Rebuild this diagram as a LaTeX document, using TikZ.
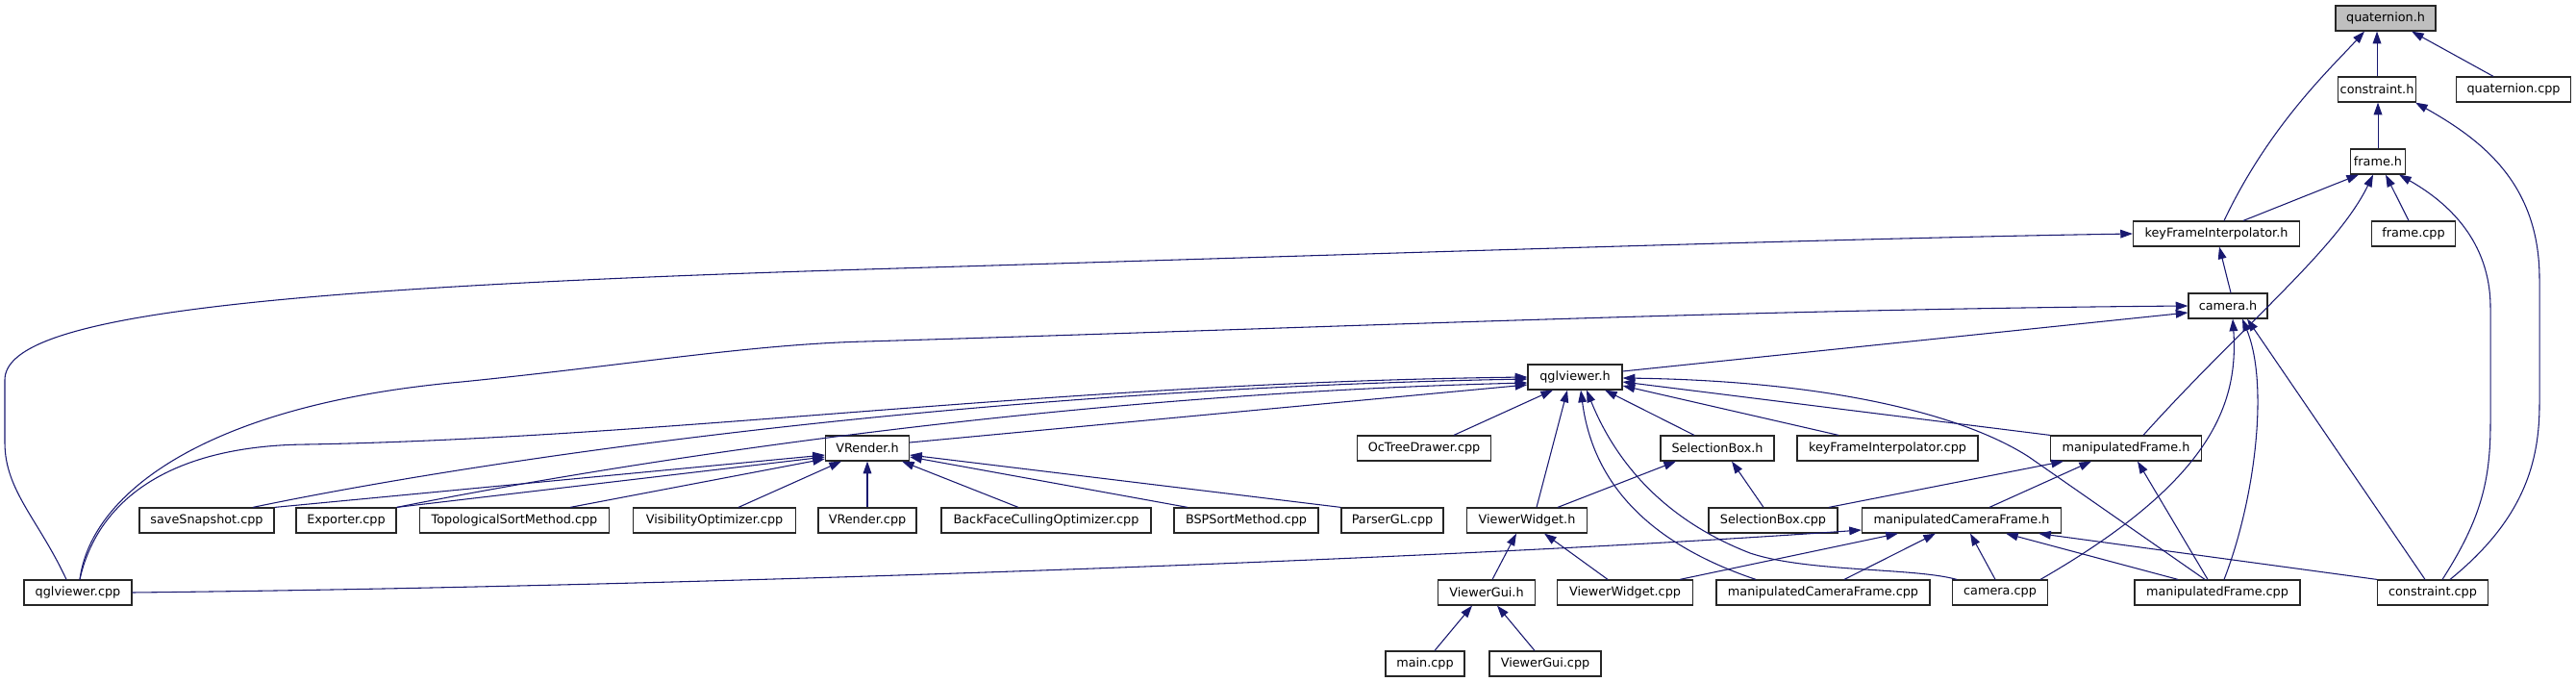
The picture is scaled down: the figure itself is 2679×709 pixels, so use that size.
\documentclass[tikz,border=0pt]{standalone}
\usepackage{fontspec}
\setmainfont{DejaVu Sans}
\usetikzlibrary{arrows.meta,calc}
\definecolor{edgeblue}{RGB}{25,25,112}
\tikzset{
  file/.style={draw=black!85, fill=white, line width=0.9pt, minimum height=19.5pt,
    inner sep=0pt, font=\fontsize{9.6}{11}\selectfont},
  wd/.style={minimum width=#1*0.75pt},
  inc/.style={draw=edgeblue, line width=0.8pt, -{Triangle[length=9.5pt,width=6.5pt]}},
}
\begin{document}
\begin{tikzpicture}[x=0.75pt,y=-0.75pt]
\useasboundingbox (0,0) rectangle (2679,709);

% Ficheiros de cima
\node[file, wd=104, fill=black!25] (quath) at (2481,19) {quaternion.h};
\node[file, wd=81]  (constrh)   at (2472,93)  {constraint.h};
\node[file, wd=119] (quatcpp)   at (2614,93)  {quaternion.cpp};
\node[file, wd=57]  (frameh)    at (2473,168) {frame.h};
\node[file, wd=173] (kfih)      at (2305,243) {keyFrameInterpolator.h};
\node[file, wd=87]  (framecpp)  at (2510,243) {frame.cpp};
\node[file, wd=82]  (camh)      at (2317,318) {camera.h};
\node[file, wd=98]  (qglh)      at (1638,392) {qglviewer.h};

% Linha do meio
\node[file, wd=87]  (vrenderh)  at (902,466)  {VRender.h};
\node[file, wd=139] (octree)    at (1481,466) {OcTreeDrawer.cpp};
\node[file, wd=118] (selboxh)   at (1786,466) {SelectionBox.h};
\node[file, wd=188] (kficpp)    at (1963,466) {keyFrameInterpolator.cpp};
\node[file, wd=157] (mframeh)   at (2211,466) {manipulatedFrame.h};

% Linha de baixo
\node[file, wd=140] (snapshot)  at (215,541)  {saveSnapshot.cpp};
\node[file, wd=104] (exporter)  at (360,541)  {Exporter.cpp};
\node[file, wd=197] (topo)      at (535,541)  {TopologicalSortMethod.cpp};
\node[file, wd=169] (visib)     at (743,541)  {VisibilityOptimizer.cpp};
\node[file, wd=102] (vrendercpp) at (902,541) {VRender.cpp};
\node[file, wd=218] (backface)  at (1088,541) {BackFaceCullingOptimizer.cpp};
\node[file, wd=150] (bspsort)   at (1296,541) {BSPSortMethod.cpp};
\node[file, wd=106] (parsergl)  at (1448,541) {ParserGL.cpp};
\node[file, wd=125] (vwidgeth)  at (1588,541) {ViewerWidget.h};
\node[file, wd=134] (selboxcpp) at (1844,541) {SelectionBox.cpp};
\node[file, wd=207] (mcamframeh) at (2040,541) {manipulatedCameraFrame.h};

\node[file, wd=112] (qglcpp)    at (81,616)   {qglviewer.cpp};
\node[file, wd=101] (vguih)     at (1546,616) {ViewerGui.h};
\node[file, wd=141] (vwidgetcpp) at (1690,616) {ViewerWidget.cpp};
\node[file, wd=222] (mcamframecpp) at (1896,616) {manipulatedCameraFrame.cpp};
\node[file, wd=99]  (cameracpp) at (2080,616) {camera.cpp};
\node[file, wd=172] (mframecpp) at (2306,616) {manipulatedFrame.cpp};
\node[file, wd=115] (constrcpp) at (2530,616) {constraint.cpp};

\node[file, wd=82]  (maincpp)   at (1482,690) {main.cpp};
\node[file, wd=116] (vguicpp)   at (1607,690) {ViewerGui.cpp};

% quaternion, constraint, frame
\draw[inc] (constrh.north) -- (constrh.north |- quath.south);
\draw[inc] ($(quatcpp.north)+(-21,0)$) -- ($(quath.south)+(27,0)$);
\draw[inc] ($(kfih.north)+(8,0)$) .. controls (2360,130) and (2425,70) .. ($(quath.south)+(-22,0)$);
\draw[inc] (frameh.north) -- (frameh.north |- constrh.south);
\draw[inc] ($(constrcpp.north)+(18,0)$) .. controls (2625,540) and (2641,480) .. (2641,420)
  -- (2641,290) .. controls (2641,190) and (2580,145) .. ($(constrh.south)+(40,0)$);
\draw[inc] ($(kfih.north)+(28,0)$) -- ($(frameh.south)+(-20,0)$);
\draw[inc] ($(framecpp.north)+(-5,0)$) -- ($(frameh.south)+(8,0)$);
\draw[inc] ($(constrcpp.north)+(10,0)$) .. controls (2580,540) and (2590,500) .. (2590,440)
  -- (2590,320) .. controls (2590,250) and (2545,210) .. ($(frameh.south)+(22,0)$);
\draw[inc] ($(mframeh.north)+(18,0)$) .. controls (2330,340) and (2430,260) .. ($(frameh.south)+(-5,0)$);

% camera e keyFrameInterpolator
\draw[inc] ($(camh.north)+(3,0)$) -- ($(kfih.south)+(3,0)$);
\draw[inc] ($(qglcpp.north)+(-12,0)$) .. controls (40,540) and (5,510) .. (5,460) -- (5,395)
  .. controls (5,330) and (250,300) .. (900,280) .. controls (1400,265) and (1900,248) .. (kfih.west);
\draw[inc] ($(qglcpp.north)+(2,0)$) .. controls (95,510) and (220,420) .. (480,397)
  .. controls (650,380) and (780,358) .. (900,355) .. controls (1400,340) and (1800,322) .. (camh.west);
\draw[inc] ($(qglh.east)+(0,-6)$) -- ($(camh.west)+(0,7)$);
\draw[inc] ($(cameracpp.north)+(42,0)$) .. controls (2300,500) and (2328,420) .. ($(camh.south)+(5,0)$);
\draw[inc] ($(mframecpp.north)+(7,0)$) .. controls (2345,520) and (2360,400) .. ($(camh.south)+(15,0)$);
\draw[inc] ($(constrcpp.north)+(-8,0)$) -- ($(camh.south)+(20,0)$);

% qglviewer.h
\draw[inc] ($(qglcpp.north)+(2,0)$) .. controls (100,525) and (170,463) .. (320,462)
  .. controls (700,455) and (1100,398) .. (qglh.west);
\draw[inc] ($(snapshot.north)+(48,0)$) .. controls (500,478) and (1000,405) .. ($(qglh.west)+(0,2)$);
\draw[inc] (exporter.north east) .. controls (650,480) and (1100,410) .. ($(qglh.west)+(0,6)$);
\draw[inc] ($(vrenderh.east)+(0,-6)$) -- ($(qglh.west)+(0,8)$);
\draw[inc] ($(octree.north)+(31,0)$) -- ($(qglh.south)+(-23,0)$);
\draw[inc] ($(vwidgeth.north)+(10,0)$) -- ($(qglh.south)+(-8,0)$);
\draw[inc] ($(selboxh.north)+(-24,0)$) -- ($(qglh.south)+(31,0)$);
\draw[inc] ($(kficpp.north)+(-51,0)$) -- ($(qglh.east)+(0,9)$);
\draw[inc] (mframeh.north west) -- ($(qglh.east)+(0,5)$);
\draw[inc] ($(mframecpp.north)+(-13,0)$) -- (2110,475) .. controls (2040,430) and (1900,396) .. ($(qglh.east)+(0,1)$);
\draw[inc] ($(mcamframecpp.north)+(-70,0)$) .. controls (1700,560) and (1655,490) .. ($(qglh.south)+(6,0)$);
\draw[inc] ($(cameracpp.north)+(-45,0)$) .. controls (1990,590) and (1880,595) .. (1820,575)
  .. controls (1730,540) and (1680,480) .. ($(qglh.south)+(12,0)$);

% VRender.h
\draw[inc] (snapshot.north east) -- ($(vrenderh.west)+(0,7)$);
\draw[inc] (exporter.north east) -- ($(vrenderh.west)+(0,9)$);
\draw[inc] ($(topo.north)+(58,0)$) -- ($(vrenderh.west)+(0,11)$);
\draw[inc] ($(visib.north)+(25,0)$) -- ($(vrenderh.south)+(-27,0)$);
\draw[inc] (vrendercpp.north) -- (vrenderh.south);
\draw[inc] ($(backface.north)+(-29,0)$) -- ($(vrenderh.south)+(36,0)$);
\draw[inc] ($(bspsort.north)+(-61,0)$) -- ($(vrenderh.east)+(0,9)$);
\draw[inc] (parsergl.north west) -- ($(vrenderh.east)+(0,7)$);

% SelectionBox, manipulatedFrame
\draw[inc] ($(vwidgeth.north)+(32,0)$) -- ($(selboxh.south)+(-43,0)$);
\draw[inc] ($(selboxcpp.north)+(-10,0)$) -- ($(selboxh.south)+(15,0)$);
\draw[inc] ($(selboxcpp.north)+(58,0)$) -- ($(mframeh.south)+(-65,0)$);
\draw[inc] ($(mcamframeh.north)+(29,0)$) -- ($(mframeh.south)+(-36,0)$);
\draw[inc] ($(mframecpp.north)+(-10,0)$) -- ($(mframeh.south)+(12,0)$);

% manipulatedCameraFrame.h
\draw[inc] (qglcpp.east) .. controls (700,610) and (1500,582) .. ($(mcamframeh.west)+(0,10)$);
\draw[inc] ($(vwidgetcpp.north)+(57,0)$) -- ($(mcamframeh.south)+(-66,0)$);
\draw[inc] ($(mcamframecpp.north)+(22,0)$) -- ($(mcamframeh.south)+(-27,0)$);
\draw[inc] ($(cameracpp.north)+(-5,0)$) -- ($(mcamframeh.south)+(9,0)$);
\draw[inc] ($(mframecpp.north)+(-41,0)$) -- ($(mcamframeh.south)+(46,0)$);
\draw[inc] (constrcpp.north west) -- ($(mcamframeh.south east)+(-24,0)$);

% ViewerWidget, ViewerGui
\draw[inc] ($(vwidgetcpp.north)+(-18,0)$) -- ($(vwidgeth.south)+(18,0)$);
\draw[inc] ($(vguih.north)+(6,0)$) -- ($(vwidgeth.south)+(-11,0)$);
\draw[inc] ($(maincpp.north)+(10,0)$) -- ($(vguih.south)+(-15,0)$);
\draw[inc] ($(vguicpp.north)+(-11,0)$) -- ($(vguih.south)+(11,0)$);
\end{tikzpicture}
\end{document}
